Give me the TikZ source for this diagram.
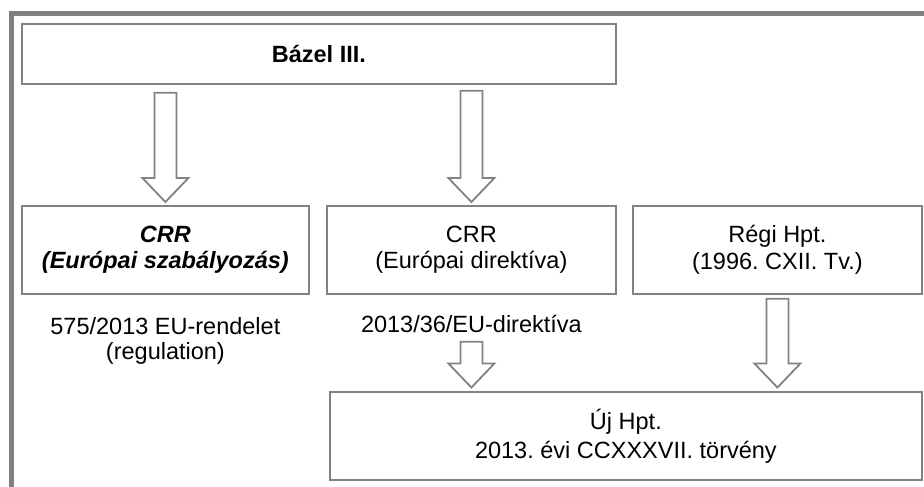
\documentclass[tikz,border=0pt]{standalone}
\usepackage{fontspec}
\setmainfont{Liberation Sans}
\frenchspacing
\usetikzlibrary{calc}
\definecolor{framegray}{RGB}{128,128,128}
\definecolor{boxgray}{RGB}{130,130,130}
\tikzset{
  box/.style={draw=boxgray, line width=1.8pt, minimum height=#1, inner sep=0pt, align=center,
    font=\fontsize{23.5}{26.5}\selectfont},
  box/.default=88pt,
  lbl/.style={inner sep=0pt, align=center, font=\fontsize{23.5}{25.5}\selectfont},
  barrow/.style={draw=boxgray, line width=1.8pt, fill=white, line join=miter},
}
\newcommand{\blockarr}[2]{%
  \draw[barrow] let \p1=(#1), \p2=(#2) in
    (\x1-11pt,\y1) -- (\x1+11pt,\y1) -- (\x1+11pt,\y2+24pt) -- (\x1+23pt,\y2+24pt)
    -- (\x1,\y2) -- (\x1-23pt,\y2+24pt) -- (\x1-11pt,\y2+24pt) -- cycle;}
\begin{document}
\begin{tikzpicture}[x=1pt,y=-1pt]
\useasboundingbox (0,0) rectangle (924,487);
\clip (0,0) rectangle (924,487);
% frame
\draw[framegray, line width=5pt] (11.5,500) -- (11.5,13.5) -- (940,13.5);
% boxes
\node[box=60pt, minimum width=594pt, anchor=north west, font=\fontsize{23.5}{26.5}\selectfont\bfseries] (top) at (21,23) {B\'azel III.};
\node[box, minimum width=287pt, anchor=north west, font=\fontsize{23.5}{26}\selectfont\bfseries\itshape] (A) at (21,205) {CRR\\(Európai szabályozás)};
\node[box, minimum width=289pt, anchor=north west] (B) at (326,205) {CRR\\(Európai direktíva)};
\node[box, minimum width=289pt, anchor=north west] (C) at (632,205) {Régi Hpt.\\(1996. CXII. Tv.)};
\node[box, minimum width=592pt, anchor=north west, font=\fontsize{23.5}{29}\selectfont] (D) at (329,391) {Új Hpt.\\2013. évi CCXXXVII. törvény};
% labels
\node[lbl, anchor=north] (la) at ($(A.south)+(0,22)$) {575/2013 EU-rendelet\\(regulation)};
\node[lbl, anchor=base] (lb) at ($(B.south)+(0,38)$) {2013/36/EU-direktíva};
% arrow end points
\coordinate (a1s) at ($(A.north |- top.south)+(0,8)$);
\coordinate (a1e) at ($(A.north)+(0,-3)$);
\coordinate (a2s) at ($(B.north |- top.south)+(0,6)$);
\coordinate (a2e) at ($(B.north)+(0,-3)$);
\coordinate (a3s) at ($(B.south)+(0,47)$);
\coordinate (a3e) at ($(B.south |- D.north)+(0,-3.5)$);
\coordinate (a4s) at ($(C.south)+(0,4)$);
\coordinate (a4e) at ($(C.south |- D.north)+(0,-3.5)$);
\blockarr{a1s}{a1e}
\blockarr{a2s}{a2e}
\blockarr{a3s}{a3e}
\blockarr{a4s}{a4e}
\end{tikzpicture}
\end{document}
